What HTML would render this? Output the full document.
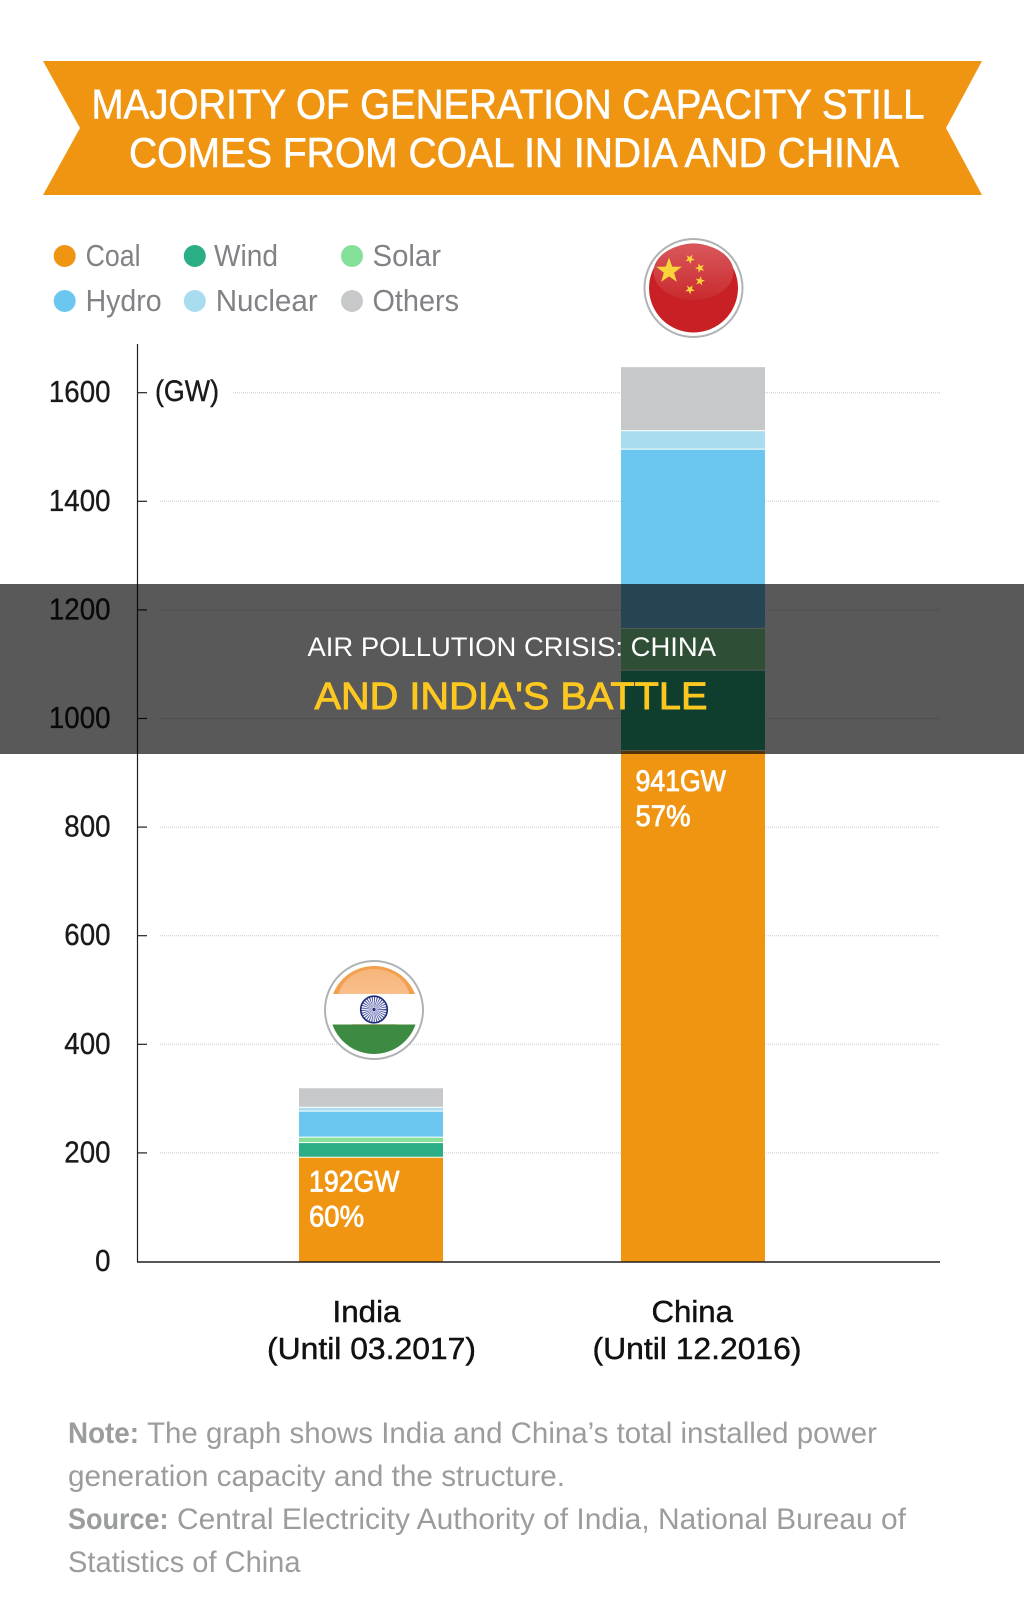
<!DOCTYPE html>
<html lang="en">
<head>
<meta charset="utf-8">
<title>Air Pollution Crisis: China and India's Battle</title>
<style>
html,body{margin:0;padding:0;background:#fff;}
svg{display:block;}
text{font-family:"Liberation Sans",Arial,sans-serif;}
</style>
</head>
<body>
<svg id="chart" xmlns="http://www.w3.org/2000/svg" width="1024" height="1619" viewBox="0 0 1024 1619">
  <defs>
    <linearGradient id="glossRed" x1="0" y1="0" x2="0" y2="1">
      <stop offset="0" stop-color="#d9585c"/><stop offset="1" stop-color="#c92a2e"/>
    </linearGradient>
    <linearGradient id="glossOrange" x1="0" y1="0" x2="0" y2="1">
      <stop offset="0" stop-color="#f7b57a"/><stop offset="1" stop-color="#f9cda6"/>
    </linearGradient>
    <clipPath id="indiaClip"><circle cx="374" cy="1010" r="44"/></clipPath>
  </defs>

  <rect x="0" y="0" width="1024" height="1619" fill="#ffffff"/>

  <polygon points="43,61 982,61 946,128 982,195 43,195 80,128" fill="#f09511"/>
  <text x="91.5" y="118.5" font-size="41.5" fill="#fff" stroke="#fff" stroke-width=".6" textLength="833" lengthAdjust="spacingAndGlyphs">MAJORITY OF GENERATION CAPACITY STILL</text>
  <text x="129" y="167" font-size="41.5" fill="#fff" stroke="#fff" stroke-width=".6" textLength="770" lengthAdjust="spacingAndGlyphs">COMES FROM COAL IN INDIA AND CHINA</text>

  <g>
    <circle cx="64.7" cy="256" r="11" fill="#f09511"/>
    <text x="85.6" y="266" font-size="30.5" fill="#808285" textLength="55" lengthAdjust="spacingAndGlyphs">Coal</text>
    <circle cx="194.8" cy="256" r="11" fill="#2bae85"/>
    <text x="214" y="266" font-size="30.5" fill="#808285" textLength="64" lengthAdjust="spacingAndGlyphs">Wind</text>
    <circle cx="352" cy="256" r="11" fill="#86e09a"/>
    <text x="372.5" y="266" font-size="30.5" fill="#808285" textLength="68.5" lengthAdjust="spacingAndGlyphs">Solar</text>
    <circle cx="64.7" cy="301" r="11" fill="#6cc7f0"/>
    <text x="85.6" y="311" font-size="30.5" fill="#808285" textLength="76" lengthAdjust="spacingAndGlyphs">Hydro</text>
    <circle cx="194.8" cy="301" r="11" fill="#a9dcef"/>
    <text x="215.7" y="311" font-size="30.5" fill="#808285" textLength="102" lengthAdjust="spacingAndGlyphs">Nuclear</text>
    <circle cx="352" cy="301" r="11" fill="#c6c8ca"/>
    <text x="372.5" y="311" font-size="30.5" fill="#808285" textLength="86.5" lengthAdjust="spacingAndGlyphs">Others</text>
  </g>

  <g id="grid"></g>
  <g id="bars"></g>
  <g id="axis"></g>
  <text x="155" y="401" font-size="30" fill="#1a1a1a" stroke="#1a1a1a" stroke-width=".4" textLength="64" lengthAdjust="spacingAndGlyphs">(GW)</text>
  <g id="catLabels"></g>
  <g id="valueLabels"></g>

  <g>
    <circle cx="693.5" cy="288" r="49" fill="#fff" stroke="#b0b2b4" stroke-width="2"/>
    <circle cx="693.5" cy="288" r="44.5" fill="#c82024"/>
    <ellipse cx="693.5" cy="272" rx="40" ry="28" fill="url(#glossRed)"/>
    <g id="chinaStars"></g>
  </g>

  <g>
    <circle cx="374" cy="1010" r="49" fill="#fff" stroke="#b0b2b4" stroke-width="2"/>
    <g clip-path="url(#indiaClip)">
      <rect x="330" y="966" width="88" height="28" fill="#f2a04e"/>
      <ellipse cx="374" cy="1000" rx="36" ry="31" fill="url(#glossOrange)"/>
      <rect x="330" y="994" width="88" height="30" fill="#ffffff"/>
      <rect x="330" y="1024.5" width="88" height="30" fill="#3d8a43"/>
    </g>
    <circle cx="374" cy="1009.5" r="7.5" fill="none" stroke="#3f4ba0" stroke-width="11" stroke-dasharray=".7 .9"/>
    <circle cx="374" cy="1009.5" r="13.3" fill="none" stroke="#1c2a7a" stroke-width="1.6"/>
    <circle cx="374" cy="1009.5" r="1.6" fill="#1c2a7a"/>
  </g>

  <g>
    <text x="68" y="1443" font-size="30" font-weight="700" fill="#9a9c9e" textLength="71" lengthAdjust="spacingAndGlyphs">Note:</text>
    <text x="147" y="1443" font-size="30" fill="#9a9c9e" textLength="730" lengthAdjust="spacingAndGlyphs">The graph shows India and China’s total installed power</text>
    <text x="68" y="1486" font-size="30" fill="#9a9c9e" textLength="497" lengthAdjust="spacingAndGlyphs">generation capacity and the structure.</text>
    <text x="68" y="1529" font-size="30" font-weight="700" fill="#9a9c9e" textLength="100.5" lengthAdjust="spacingAndGlyphs">Source:</text>
    <text x="177" y="1529" font-size="30" fill="#9a9c9e" textLength="729" lengthAdjust="spacingAndGlyphs">Central Electricity Authority of India, National Bureau of</text>
    <text x="68" y="1572" font-size="30" fill="#9a9c9e" textLength="232.5" lengthAdjust="spacingAndGlyphs">Statistics of China</text>
  </g>

  <rect x="0" y="584" width="1024" height="170" fill="#000" fill-opacity=".65"/>
  <text x="307.5" y="656" font-size="27" fill="#fff" textLength="408.5" lengthAdjust="spacingAndGlyphs">AIR POLLUTION CRISIS: CHINA</text>
  <text x="314.5" y="709" font-size="38" fill="#fcc820" stroke="#fcc820" stroke-width=".9" textLength="393" lengthAdjust="spacingAndGlyphs">AND INDIA'S BATTLE</text>
</svg>

<script>
const categories = ["India", "China"];
const categoryPeriods = ["(Until 03.2017)", "(Until 12.2016)"];
const coal = [192, 941];
const wind = [27, 148];
const solar = [10, 77];
const hydro = [48, 330];
const nuclear = [7, 34];
const others = [36, 118];
const coalValueLabels = ["192GW", "941GW"];
const coalShareLabels = ["60%", "57%"];
const tickValues = [0, 200, 400, 600, 800, 1000, 1200, 1400, 1600];
const tickLabels = ["0", "200", "400", "600", "800", "1000", "1200", "1400", "1600"];

const SVG_NS = "http://www.w3.org/2000/svg";
const seriesList = [
  { key: "coal", values: coal, color: "#f09511" },
  { key: "wind", values: wind, color: "#2bae85" },
  { key: "solar", values: solar, color: "#86e09a" },
  { key: "hydro", values: hydro, color: "#6cc7f0" },
  { key: "nuclear", values: nuclear, color: "#a9dcef" },
  { key: "others", values: others, color: "#c6c8ca" }
];

function yScale(v) { return 1262 - v * 0.543; }
function barLeft(i) { return i === 0 ? 299 : 621; }
const barWidth = 144;

function make(tag, attrs, parent) {
  const el = document.createElementNS(SVG_NS, tag);
  for (const k in attrs) el.setAttribute(k, attrs[k]);
  parent.appendChild(el);
  return el;
}

const gridG = document.getElementById("grid");
const axisG = document.getElementById("axis");
tickValues.forEach(function (t, i) {
  const y = yScale(t);
  if (t > 0) {
    const line = make("line", { x1: t === 1600 ? 233 : 160, x2: 940, y1: y - 0.5, y2: y - 0.5, stroke: "#c9cacb", "stroke-width": 1, "stroke-dasharray": "1 1" }, gridG);
    
    
    const tick = make("line", { x1: 137.5, x2: 147, y1: y - 0.5, y2: y - 0.5, stroke: "#231f20", "stroke-width": 1.2 }, axisG);
    
    
  }
  const label = make("text", { x: 110.5, y: y + 9, "font-size": 31, fill: "#1a1a1a", stroke: "#1a1a1a", "stroke-width": 0.35, "text-anchor": "end", textLength: tickLabels[i].length * 15.4, lengthAdjust: "spacingAndGlyphs" }, axisG);
  label.textContent = tickLabels[i];
  
  
});

const yAxisLine = make("line", { x1: 137.5, x2: 137.5, y1: 344, y2: 1262, stroke: "#231f20", "stroke-width": 1.2 }, axisG);



const barsG = document.getElementById("bars");
categories.forEach(function (cat, i) {
  let running = 0;
  seriesList.forEach(function (s, si) {
    const top = yScale(running + s.values[i]);
    const bottom = yScale(running) - (si === 0 ? 0 : 1);
    const rect = make("rect", { x: barLeft(i), y: top, width: barWidth, height: Math.max(0, bottom - top), fill: s.color }, barsG);
    
    
    running += s.values[i];
  });
});

const xAxisLine = make("line", { x1: 137, x2: 940, y1: 1262, y2: 1262, stroke: "#231f20", "stroke-width": 1.6 }, axisG);



const catG = document.getElementById("catLabels");
categories.forEach(function (cat, i) {
  const nameLabel = make("text", { x: i === 0 ? 332.5 : 651.5, y: 1322, "font-size": 31, fill: "#111", stroke: "#111", "stroke-width": 0.45, textLength: i === 0 ? 68 : 81.5, lengthAdjust: "spacingAndGlyphs" }, catG);
  nameLabel.textContent = cat;
  
  
  const periodLabel = make("text", { x: i === 0 ? 267 : 592.5, y: 1359, "font-size": 31, fill: "#111", stroke: "#111", "stroke-width": 0.45, textLength: 209, lengthAdjust: "spacingAndGlyphs" }, catG);
  periodLabel.textContent = categoryPeriods[i];
  
  
});

const valG = document.getElementById("valueLabels");
categories.forEach(function (cat, i) {
  const x = barLeft(i) + (i === 0 ? 10 : 14.5);
  const top = yScale(coal[i]);
  const firstDy = i === 0 ? 34 : 40;
  const valueText = make("text", { x: x, y: top + firstDy, "font-size": 30, fill: "#fff", stroke: "#fff", "stroke-width": 0.8, textLength: 90.5, lengthAdjust: "spacingAndGlyphs" }, valG);
  valueText.textContent = coalValueLabels[i];
  
  
  const shareText = make("text", { x: x, y: top + firstDy + 35, "font-size": 30, fill: "#fff", stroke: "#fff", "stroke-width": 0.8, textLength: 55, lengthAdjust: "spacingAndGlyphs" }, valG);
  shareText.textContent = coalShareLabels[i];
  
  
});

function starPoints(cx, cy, r, rot) {
  const pts = [];
  for (let k = 0; k < 10; k++) {
    const rad = k % 2 === 0 ? r : r * 0.4;
    const a = -Math.PI / 2 + rot + k * Math.PI / 5;
    pts.push((cx + rad * Math.cos(a)).toFixed(1) + "," + (cy + rad * Math.sin(a)).toFixed(1));
  }
  return pts.join(" ");
}
const starsG = document.getElementById("chinaStars");
[[669, 271, 13.5, 0], [690, 259, 5, 0.5], [700, 268, 5, 0.9], [700, 281, 5, 0.2], [690, 289.5, 5, 0.6]].forEach(function (st) {
  const star = make("polygon", { points: starPoints(st[0], st[1], st[2], st[3]), fill: "#f8d43a" }, starsG);
  
  
});
</script>
</body>
</html>
